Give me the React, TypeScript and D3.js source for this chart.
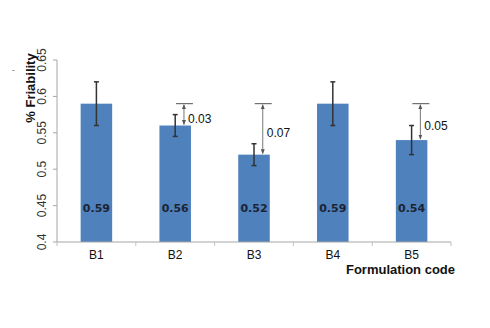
import React from "react";
import * as d3 from "d3";

const categories = ["B1", "B2", "B3", "B4", "B5"];
const values = [0.59, 0.56, 0.52, 0.59, 0.54];
const errors = [0.03, 0.015, 0.015, 0.03, 0.02];
const diffLabels = ["", "0.03", "0.07", "", "0.05"];
const yTicks = [0.4, 0.45, 0.5, 0.55, 0.6, 0.65];
const refValue = 0.59;

export default function App() {
  const W = 490, H = 328;
  const x = d3.scaleBand<string>().domain(categories).range([57, 451]).paddingInner(0.6).paddingOuter(0.3);
  const y = d3.scaleLinear().domain([0.4, 0.65]).range([242, 60]);
  const bw = x.bandwidth();
  const boundaries = d3.range(categories.length + 1).map(i => 57 + (i * (451 - 57)) / categories.length);
  return (
    <svg width={W} height={H} style={{ position: "absolute", left: 0, top: 0, background: "#fff" }}
      fontFamily="Liberation Sans, Arial, sans-serif">
      <defs>
        <marker id="arr" viewBox="0 0 10 10" refX="9" refY="5" markerWidth="5" markerHeight="5" orient="auto-start-reverse">
          <path d="M0,1 L10,5 L0,9 z" fill="#555" />
        </marker>
      </defs>
      {/* y axis */}
      <line x1={57} x2={57} y1={y(0.65)} y2={y(0.4)} stroke="#a6a6a6" />
      {yTicks.map(t => (
        <g key={t}>
          <line x1={53} x2={57} y1={y(t)} y2={y(t)} stroke="#a6a6a6" />
          <text transform={`translate(46,${y(t)}) rotate(-90)`} textAnchor="middle" fontSize={12} fill="#333">{String(t)}</text>
        </g>
      ))}
      <text transform={`translate(35,88) rotate(-90)`} textAnchor="middle" fontSize={13} fontWeight="bold" fill="#111">% Friability</text>
      <text x={12} y={72} fontSize={8} fill="#333">-</text>
      {/* bars */}
      {categories.map((c, i) => (
        <rect key={c} x={x(c)!} y={y(values[i])} width={bw} height={y(0.4) - y(values[i])} fill="#4f81bd" />
      ))}
      {/* x axis */}
      <line x1={57} x2={451} y1={242} y2={242} stroke="#a6a6a6" />
      {boundaries.map((b, i) => (
        <line key={i} x1={b} x2={b} y1={242} y2={246} stroke="#c0c0c0" />
      ))}
      {categories.map(c => (
        <text key={c} x={x(c)! + bw / 2} y={259} textAnchor="middle" fontSize={12} fill="#111">{c}</text>
      ))}
      <text x={455} y={274} textAnchor="end" fontSize={13} fontWeight="bold" fill="#111">Formulation code</text>
      {/* error bars */}
      {categories.map((c, i) => {
        const cx = x(c)! + bw / 2;
        return (
          <g key={c} stroke="#333" strokeWidth={1.5}>
            <line x1={cx} x2={cx} y1={y(values[i] + errors[i])} y2={y(values[i] - errors[i])} />
            <line x1={cx - 2.5} x2={cx + 2.5} y1={y(values[i] + errors[i])} y2={y(values[i] + errors[i])} />
            <line x1={cx - 2.5} x2={cx + 2.5} y1={y(values[i] - errors[i])} y2={y(values[i] - errors[i])} />
          </g>
        );
      })}
      {/* value labels */}
      {categories.map((c, i) => (
        <text key={c} x={x(c)! + bw / 2} y={212} textAnchor="middle" fontSize={11} fontWeight="bold"
          fontFamily="DejaVu Sans, sans-serif" fill="#1c2433">{values[i].toFixed(2)}</text>
      ))}
      {/* difference annotations */}
      {categories.map((c, i) => {
        if (!diffLabels[i]) return null;
        const ax = x(c)! + bw - 7;
        return (
          <g key={c}>
            <line x1={ax - 8} x2={ax + 9} y1={y(refValue)} y2={y(refValue)} stroke="#555" strokeWidth={1} />
            <line x1={ax} x2={ax} y1={y(refValue) + 1} y2={y(values[i]) - 1} stroke="#777" strokeWidth={1}
              markerStart="url(#arr)" markerEnd="url(#arr)" />
            <text x={ax + 4} y={y((refValue + values[i]) / 2) + 8} fontSize={12} fill="#111">{diffLabels[i]}</text>
          </g>
        );
      })}
    </svg>
  );
}
